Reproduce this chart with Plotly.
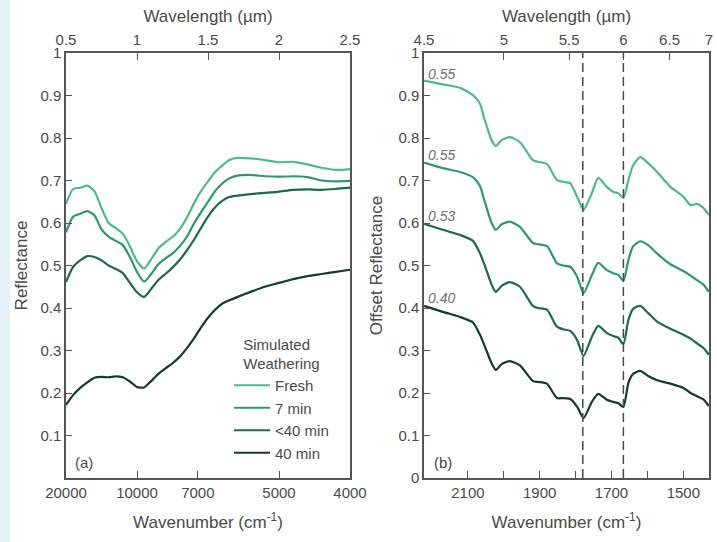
import plotly.graph_objects as go

# ---------------- data: panel (a) ----------------
wavelength_um = [0.50, 0.55, 0.60, 0.65, 0.70, 0.75, 0.80, 0.85, 0.90, 0.95, 1.00, 1.05,
                 1.10, 1.15, 1.20, 1.25, 1.30, 1.35, 1.40, 1.45, 1.50, 1.55, 1.60, 1.65,
                 1.70, 1.80, 1.90, 2.00, 2.10, 2.20, 2.30, 2.40, 2.50]
refl_fresh = [0.645, 0.680, 0.683, 0.688, 0.675, 0.635, 0.600, 0.588, 0.575, 0.545, 0.510, 0.493,
              0.515, 0.540, 0.555, 0.567, 0.585, 0.612, 0.645, 0.675, 0.698, 0.720, 0.735, 0.748,
              0.753, 0.752, 0.748, 0.743, 0.744, 0.738, 0.730, 0.725, 0.727]
refl_7min = [0.578, 0.615, 0.622, 0.628, 0.618, 0.585, 0.568, 0.558, 0.548, 0.520, 0.485, 0.462,
             0.480, 0.503, 0.517, 0.528, 0.545, 0.567, 0.598, 0.625, 0.650, 0.675, 0.693, 0.705,
             0.711, 0.713, 0.710, 0.709, 0.710, 0.708, 0.700, 0.698, 0.699]
refl_lt40 = [0.461, 0.497, 0.512, 0.522, 0.520, 0.512, 0.500, 0.492, 0.482, 0.459, 0.437, 0.426,
             0.445, 0.466, 0.480, 0.495, 0.513, 0.535, 0.560, 0.588, 0.615, 0.637, 0.652, 0.661,
             0.664, 0.668, 0.671, 0.674, 0.678, 0.679, 0.678, 0.680, 0.683]
refl_40min = [0.172, 0.195, 0.212, 0.225, 0.236, 0.238, 0.237, 0.239, 0.237, 0.227, 0.214, 0.213,
              0.228, 0.245, 0.258, 0.270, 0.285, 0.305, 0.328, 0.354, 0.377, 0.396, 0.410, 0.418,
              0.425, 0.438, 0.450, 0.459, 0.468, 0.475, 0.480, 0.485, 0.490]

# ---------------- data: panel (b) ----------------
wavenumber_cm = [2222, 2170, 2122, 2086, 2067, 2053, 2034, 2022, 2006, 1983, 1955, 1919,
                 1905, 1880, 1852, 1835, 1815, 1796, 1778, 1755, 1737, 1713, 1695, 1681,
                 1667, 1653, 1640, 1620, 1598, 1573, 1536, 1500, 1480, 1461, 1444, 1429]
off_fresh = [0.935, 0.926, 0.918, 0.901, 0.882, 0.842, 0.795, 0.781, 0.795, 0.802, 0.790, 0.748,
             0.744, 0.739, 0.701, 0.697, 0.694, 0.662, 0.631, 0.670, 0.706, 0.685, 0.673, 0.670,
             0.659, 0.701, 0.736, 0.755, 0.741, 0.720, 0.685, 0.662, 0.642, 0.645, 0.635, 0.619]
off_7min = [0.742, 0.729, 0.720, 0.708, 0.688, 0.650, 0.600, 0.584, 0.597, 0.603, 0.591, 0.553,
            0.550, 0.546, 0.505, 0.500, 0.497, 0.474, 0.435, 0.477, 0.506, 0.489, 0.482, 0.478,
            0.464, 0.513, 0.545, 0.557, 0.548, 0.528, 0.503, 0.487, 0.476, 0.465, 0.455, 0.438]
off_lt40 = [0.598, 0.584, 0.572, 0.558, 0.530, 0.500, 0.455, 0.438, 0.452, 0.461, 0.450, 0.405,
            0.400, 0.396, 0.356, 0.350, 0.346, 0.325, 0.287, 0.332, 0.358, 0.341, 0.334, 0.330,
            0.315, 0.372, 0.398, 0.405, 0.388, 0.368, 0.351, 0.337, 0.328, 0.316, 0.306, 0.290]
off_40min = [0.405, 0.391, 0.379, 0.366, 0.338, 0.310, 0.270, 0.254, 0.268, 0.275, 0.265, 0.228,
             0.226, 0.222, 0.188, 0.188, 0.186, 0.168, 0.141, 0.179, 0.198, 0.184, 0.179, 0.176,
             0.167, 0.224, 0.245, 0.252, 0.240, 0.230, 0.222, 0.212, 0.200, 0.192, 0.185, 0.169]

series_names = ["Fresh", "7 min", "<40 min", "40 min"]
series_colors = ["#4dbb88", "#2a9a68", "#1b6b48", "#123d29"]
offset_labels = ["0.55", "0.55", "0.53", "0.40"]
offset_label_y = [0.950, 0.760, 0.616, 0.424]
dashed_wavenumbers = [1780, 1667]

# tick labels
a_bottom_wn = [20000, 10000, 7000, 5000, 4000]
a_top_um = [0.5, 1, 1.5, 2, 2.5]
b_bottom_wn = [2100, 2000, 1900, 1800, 1700, 1600, 1500]
b_bottom_text = ["2100", "", "1900", "", "1700", "", "1500"]
b_top_um = [4.5, 5, 5.5, 6, 6.5, 7]

FONT = "Liberation Sans, Arial, Helvetica, sans-serif"
TXT = "#4a4a4a"
AX = "#555555"

fig = go.Figure()

a_vals = [refl_fresh, refl_7min, refl_lt40, refl_40min]
b_vals = [off_fresh, off_7min, off_lt40, off_40min]
for name, col, ya in zip(series_names, series_colors, a_vals):
    fig.add_trace(go.Scatter(x=wavelength_um, y=ya, mode="lines", name=name,
                             line=dict(color=col, width=2.2, shape="spline", smoothing=0.6),
                             xaxis="x", yaxis="y"))
for name, col, yb in zip(series_names, series_colors, b_vals):
    fig.add_trace(go.Scatter(x=wavenumber_cm, y=yb, mode="lines", name=name, showlegend=False,
                             line=dict(color=col, width=2.2, shape="spline", smoothing=0.6),
                             xaxis="x2", yaxis="y2"))

# dummy traces so the top axes exist
fig.add_trace(go.Scatter(x=[1.0], y=[None], mode="lines", showlegend=False, hoverinfo="skip",
                         xaxis="x3", yaxis="y"))
fig.add_trace(go.Scatter(x=[2000], y=[None], mode="lines", showlegend=False, hoverinfo="skip",
                         xaxis="x4", yaxis="y2"))

L, R, T, B = 66, 8, 53, 64
W, H = 717, 542
pw = W - L - R
ph = H - T - B
dom_a = [0, (350 - L) / pw]
dom_b = [(424 - L) / pw, 1]

common = dict(showline=True, linecolor=AX, linewidth=1.5, ticks="inside", tickcolor=AX,
              tickwidth=1.2, showgrid=False, zeroline=False,
              tickfont=dict(family=FONT, size=15, color=TXT), automargin=False)

fig.update_layout(
    width=W, height=H,
    margin=dict(l=L, r=R, t=T, b=B),
    paper_bgcolor="white", plot_bgcolor="white",
    font=dict(family=FONT, color=TXT),
    xaxis=dict(domain=dom_a, range=[0.5, 2.5], anchor="y",
               tickvals=[10000 / v for v in a_bottom_wn], ticktext=[str(v) for v in a_bottom_wn],
               ticklen=7, ticklabelstandoff=0,
               title=dict(text="Wavenumber (cm<sup>-1</sup>)", font=dict(size=17, color=TXT), standoff=16),
               **common),
    xaxis3=dict(overlaying="x", side="top", range=[0.5, 2.5], anchor="y",
                tickvals=a_top_um, ticktext=[str(v) for v in a_top_um], ticklen=7,
                title=dict(text="Wavelength (µm)", font=dict(size=17, color=TXT), standoff=4),
                **common),
    yaxis=dict(domain=[0, 1], range=[0, 1], anchor="x", mirror=True,
               tickvals=[0.1, 0.2, 0.3, 0.4, 0.5, 0.6, 0.7, 0.8, 0.9, 1.0],
               ticktext=["0.1", "0.2", "0.3", "0.4", "0.5", "0.6", "0.7", "0.8", "0.9", "1"],
               ticklen=6,
               title=dict(text="Reflectance", font=dict(size=17, color=TXT), standoff=8),
               **common),
    xaxis2=dict(domain=dom_b, range=[10000 / 4.5, 10000 / 7], anchor="y2",
                tickvals=b_bottom_wn, ticktext=b_bottom_text, ticklen=7, ticklabelstandoff=0,
                title=dict(text="Wavenumber (cm<sup>-1</sup>)", font=dict(size=17, color=TXT), standoff=16),
                **common),
    xaxis4=dict(overlaying="x2", side="top", range=[10000 / 4.5, 10000 / 7], anchor="y2",
                tickvals=[10000 / v for v in b_top_um], ticktext=[str(v) for v in b_top_um], ticklen=7,
                title=dict(text="Wavelength (µm)", font=dict(size=17, color=TXT), standoff=4),
                **common),
    yaxis2=dict(domain=[0, 1], range=[0, 1], anchor="x2", mirror=True,
                tickvals=[0, 0.1, 0.2, 0.3, 0.4, 0.5, 0.6, 0.7, 0.8, 0.9, 1.0],
                ticktext=["0", "0.1", "0.2", "0.3", "0.4", "0.5", "0.6", "0.7", "0.8", "0.9", "1"],
                ticklen=6,
                title=dict(text="Offset Reflectance", font=dict(size=17, color=TXT), standoff=11),
                **common),
    legend=dict(x=(229 - L) / pw, y=(H - B - 330) / ph, xanchor="left", yanchor="top",
                bgcolor="rgba(0,0,0,0)", font=dict(family=FONT, size=15, color=TXT),
                title=dict(text="Simulated<br>Weathering", side="top center",
                           font=dict(family=FONT, size=15, color=TXT)),
                tracegroupgap=0, itemwidth=36),
    showlegend=True,
)

shapes = [dict(type="rect", xref="paper", yref="paper", x0=-L / pw, x1=(10 - L) / pw,
               y0=-B / ph, y1=(H - B) / ph, fillcolor="#e4f1f7", line=dict(width=0), layer="below")]
for wn in dashed_wavenumbers:
    shapes.append(dict(type="line", xref="x2", yref="y2", x0=wn, x1=wn, y0=0, y1=1,
                       line=dict(color="#4a4a4a", width=1.5, dash="9px,5px")))
fig.update_layout(shapes=shapes)

ann = [
    dict(text="(a)", xref="paper", yref="paper", x=(73 - L) / pw, y=(H - B - 462) / ph,
         xanchor="left", yanchor="middle", showarrow=False, font=dict(size=15, color=TXT, family=FONT)),
    dict(text="(b)", xref="paper", yref="paper", x=(432 - L) / pw, y=(H - B - 462) / ph,
         xanchor="left", yanchor="middle", showarrow=False, font=dict(size=15, color=TXT, family=FONT)),
]
for lab, yy in zip(offset_labels, offset_label_y):
    ann.append(dict(text="<i>" + lab + "</i>", xref="x2", yref="y2", x=2218, y=yy,
                    xanchor="left", yanchor="middle", showarrow=False,
                    font=dict(size=14, color="#707070", family=FONT)))
fig.update_layout(annotations=ann)

fig.write_html("out.html", config={"displayModeBar": False},
               post_script="document.body.style.margin='0';")
